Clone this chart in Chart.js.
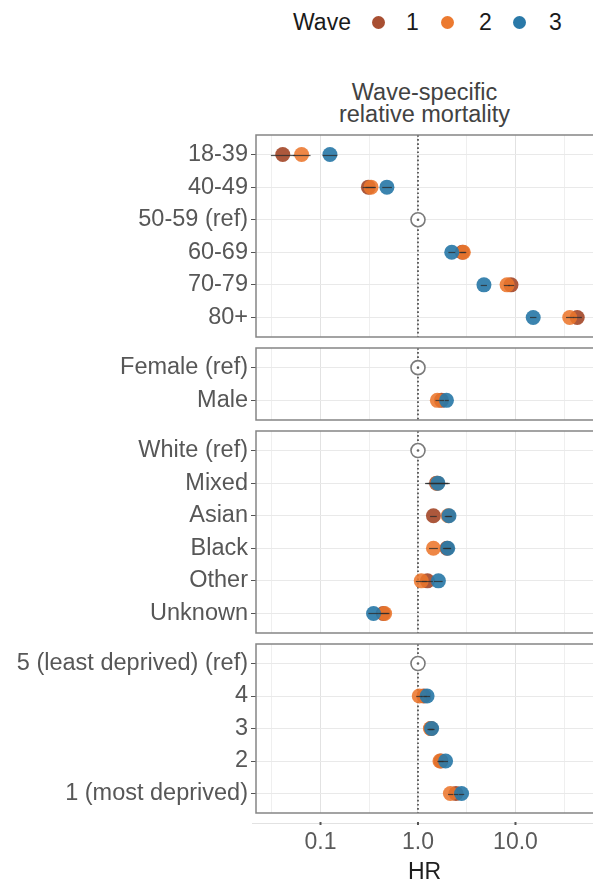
<!DOCTYPE html>
<html>
<head>
<meta charset="utf-8">
<title>Wave-specific relative mortality</title>
<script src="https://cdn.jsdelivr.net/npm/chart.js@4.4.1/dist/chart.umd.min.js"></script>
<style>
  html, body { margin: 0; padding: 0; background: #fff; width: 593px; height: 884px; overflow: hidden;
    font-family: "Liberation Sans", Arial, Helvetica, sans-serif; }
  .abs { position: absolute; white-space: nowrap; }
  .legend-text { font-size: 23px; line-height: 26px; top: 9px; color: #1a1a1a; }
  .legend-dot { width: 13px; height: 13px; border-radius: 50%; top: 15.5px; }
  .strip { left: 256px; width: 337px; top: 81px; text-align: center; font-size: 23.5px; line-height: 22px; color: #424242; }
  canvas { position: absolute; left: 0; }
</style>
</head>
<body>

<!-- legend -->
<div class="abs legend-text" style="left:293px">Wave</div>
<div class="abs legend-dot" style="left:372px;background:#a84f32"></div>
<div class="abs legend-text" style="left:406px">1</div>
<div class="abs legend-dot" style="left:441px;background:#ec7a30"></div>
<div class="abs legend-text" style="left:479px">2</div>
<div class="abs legend-dot" style="left:513px;background:#2a79a8"></div>
<div class="abs legend-text" style="left:549px">3</div>

<!-- panel heading -->
<div class="abs strip">Wave-specific<br>relative mortality</div>

<canvas id="age"></canvas>
<canvas id="sex"></canvas>
<canvas id="ethnicity"></canvas>
<canvas id="deprivation"></canvas>

<script>
// ---- row labels ----
const ageLabels = ['18-39', '40-49', '50-59 (ref)', '60-69', '70-79', '80+'];
const sexLabels = ['Female (ref)', 'Male'];
const ethnicityLabels = ['White (ref)', 'Mixed', 'Asian', 'Black', 'Other', 'Unknown'];
const deprivationLabels = ['5 (least deprived) (ref)', '4', '3', '2', '1 (most deprived)'];

// ---- reference category row in each panel (HR fixed at 1) ----
const ageRef = 2;
const sexRef = 0;
const ethnicityRef = 0;
const deprivationRef = 0;

// ---- hazard ratios by wave ----
const ageWave1 = [0.041, 0.31, null, 2.85, 9.0, 43];
const ageWave2 = [0.064, 0.33, null, 2.92, 8.2, 36];
const ageWave3 = [0.125, 0.48, null, 2.22, 4.75, 15.2];

const sexWave1 = [null, 1.74];
const sexWave2 = [null, 1.58];
const sexWave3 = [null, 1.96];

const ethnicityWave1 = [null, 1.55, 1.44, 1.98, 1.25, 0.44];
const ethnicityWave2 = [null, 1.58, 2.04, 1.44, 1.08, 0.455];
const ethnicityWave3 = [null, 1.60, 2.08, 2.02, 1.62, 0.35];

const deprivationWave1 = [null, 1.15, 1.36, 1.72, 2.45];
const deprivationWave2 = [null, 1.03, 1.34, 1.68, 2.15];
const deprivationWave3 = [null, 1.24, 1.38, 1.92, 2.80];

// ---- 95% confidence intervals by wave ----
const ageWave1CI = [[0.031, 0.055], [0.27, 0.36], null, [2.65, 3.07], [8.4, 9.7], [39, 48]];
const ageWave2CI = [[0.052, 0.079], [0.29, 0.37], null, [2.72, 3.13], [7.6, 8.8], [33, 39.5]];
const ageWave3CI = [[0.105, 0.149], [0.43, 0.54], null, [2.05, 2.41], [4.4, 5.1], [14.1, 16.4]];

const sexWave1CI = [null, [1.66, 1.85]];
const sexWave2CI = [null, [1.51, 1.65]];
const sexWave3CI = [null, [1.88, 2.07]];

const ethnicityWave1CI = [null, [1.18, 2.04], [1.33, 1.56], [1.80, 2.17], [1.10, 1.42], [0.39, 0.50]];
const ethnicityWave2CI = [null, [1.22, 2.05], [1.88, 2.20], [1.30, 1.60], [0.95, 1.23], [0.41, 0.51]];
const ethnicityWave3CI = [null, [1.26, 2.12], [1.93, 2.24], [1.86, 2.19], [1.46, 1.79], [0.31, 0.39]];

const deprivationWave1CI = [null, [1.08, 1.23], [1.28, 1.45], [1.62, 1.83], [2.32, 2.60]];
const deprivationWave2CI = [null, [0.96, 1.10], [1.25, 1.43], [1.58, 1.79], [2.03, 2.29]];
const deprivationWave3CI = [null, [1.16, 1.33], [1.29, 1.48], [1.78, 2.03], [2.64, 2.98]];

// ---- x axis (log HR) breaks ----
const xBreaks = [0.1, 1, 10];
const xBreakLabels = ['0.1', '1.0', '10.0'];
const xMinorBreaks = [0.0316, 0.316, 3.16, 31.6];

// ---- layout & styling ----
const FONT = '"Liberation Sans", Arial, Helvetica, sans-serif';
const WAVE_FILL = ['rgba(168,79,50,0.95)', 'rgba(236,118,44,0.88)', 'rgba(42,121,168,0.92)'];
const PAGE_W = 593, PAGE_H = 884;
const PLOT_LEFT = 256;
const ROW = 32.5;
const GAP = 11;
const PAD = 20;
const X_MIN = 0.0218, X_MAX = 62.4;

// Panel frame, confidence intervals and the detached bottom axis line
const forestExtras = {
  id: 'forestExtras',
  afterDatasetsDraw(chart, args, opts) {
    const { ctx, chartArea: a, scales: { x, y } } = chart;
    ctx.save();
    ctx.beginPath();
    ctx.rect(a.left, a.top, a.right - a.left, a.bottom - a.top);
    ctx.clip();
    ctx.strokeStyle = 'rgba(45,45,45,0.8)';
    ctx.lineWidth = 1.2;
    (opts.intervals || []).forEach(ci => ci.forEach((r, i) => {
      if (!r) return;
      const py = Math.round(y.getPixelForValue(i)) + 0.5;
      ctx.beginPath();
      ctx.moveTo(x.getPixelForValue(r[0]), py);
      ctx.lineTo(x.getPixelForValue(r[1]), py);
      ctx.stroke();
    }));
    ctx.restore();

    ctx.save();
    ctx.strokeStyle = '#858585';
    ctx.lineWidth = 1.5;
    ctx.beginPath();
    ctx.moveTo(a.right + 4, a.top);
    ctx.lineTo(a.left, a.top);
    ctx.lineTo(a.left, a.bottom);
    ctx.lineTo(a.right + 4, a.bottom);
    ctx.stroke();
    ctx.restore();

    if (opts.bottomAxis) {
      const ly = a.bottom + 10.5;
      ctx.save();
      ctx.strokeStyle = '#e2e2e2';
      ctx.lineWidth = 1;
      ctx.beginPath();
      ctx.moveTo(a.left - 4, ly);
      ctx.lineTo(a.right, ly);
      ctx.stroke();
      ctx.fillStyle = '#555';
      xBreaks.forEach(v => {
        const px = x.getPixelForValue(v);
        ctx.fillRect(px - 1, ly - 1.5, 2, 3);
      });
      ctx.restore();
    }
  }
};

function toPoints(values) {
  const pts = [];
  values.forEach((v, i) => { if (v != null) pts.push({ x: v, y: i }); });
  return pts;
}

function buildPanel(id, panelTop, labels, refRow, waves, intervals, isBottom) {
  const n = labels.length;
  const h = Math.round((n + 0.2) * ROW);
  const panelBottom = panelTop + h;
  const canvas = document.getElementById(id);
  const cTop = panelTop - PAD;
  const cHeight = isBottom ? PAGE_H - cTop : h + 2 * PAD;
  canvas.width = PAGE_W;
  canvas.height = cHeight;
  canvas.style.top = cTop + 'px';

  const datasets = [
    {
      type: 'line',
      data: [{ x: 1, y: -0.6 }, { x: 1, y: n - 0.4 }],
      borderColor: '#4a4a4a',
      borderWidth: 1.7,
      borderDash: [1.7, 2.4],
      pointRadius: 0,
      order: 10
    },
    {
      data: [{ x: 1, y: refRow }],
      pointRadius: 7,
      pointBorderWidth: 1.6,
      pointBorderColor: '#7a7a7a',
      pointBackgroundColor: '#ffffff',
      order: 6
    },
    {
      data: [{ x: 1, y: refRow }],
      pointRadius: 1.3,
      pointBorderWidth: 0,
      pointBackgroundColor: '#666',
      order: 5
    }
  ];
  waves.forEach((vals, k) => {
    datasets.push({
      data: toPoints(vals),
      pointRadius: 7.5,
      pointBorderWidth: 0,
      pointBackgroundColor: WAVE_FILL[k],
      order: 3 - k
    });
  });

  new Chart(canvas, {
    type: 'scatter',
    data: { datasets },
    plugins: [forestExtras],
    options: {
      responsive: false,
      animation: false,
      events: [],
      layout: { autoPadding: false, padding: { top: PAD, bottom: isBottom ? 0 : PAD, left: 0, right: 0 } },
      plugins: {
        legend: { display: false },
        tooltip: { enabled: false },
        forestExtras: { intervals, bottomAxis: isBottom }
      },
      scales: {
        x: {
          type: 'logarithmic',
          min: X_MIN,
          max: X_MAX,
          afterBuildTicks: s => {
            s.ticks = xMinorBreaks.concat(xBreaks).sort((a, b) => a - b).map(v => ({ value: v }));
          },
          afterFit: s => { s.height = isBottom ? PAGE_H - panelBottom : 0; },
          border: { display: false },
          grid: {
            drawTicks: false,
            color: c => (c.tick && xBreaks.includes(c.tick.value)) ? '#e2e2e2' : '#efefef',
            lineWidth: 1
          },
          ticks: {
            display: isBottom,
            autoSkip: false,
            maxRotation: 0,
            padding: 16,
            color: '#5a5a5a',
            font: { family: FONT, size: 23 },
            callback: v => {
              const i = xBreaks.indexOf(v);
              return i >= 0 ? xBreakLabels[i] : '';
            }
          },
          title: {
            display: isBottom,
            text: 'HR',
            color: '#1e1e1e',
            padding: { top: 0, bottom: 0 },
            font: { family: FONT, size: 23, lineHeight: 1 }
          }
        },
        y: {
          type: 'linear',
          reverse: true,
          min: -0.6,
          max: n - 0.4,
          afterBuildTicks: s => { s.ticks = labels.map((_, i) => ({ value: i })); },
          afterFit: s => { s.width = PLOT_LEFT; },
          border: { display: false },
          grid: {
            color: '#e9e9e9',
            lineWidth: 1,
            drawTicks: true,
            tickLength: 5,
            tickColor: '#555'
          },
          ticks: {
            autoSkip: false,
            padding: 3,
            color: '#575757',
            font: { family: FONT, size: 23.5 },
            callback: v => labels[v]
          }
        }
      }
    }
  });
  return panelBottom;
}

let nextTop = 135;
nextTop = buildPanel('age', nextTop, ageLabels, ageRef,
  [ageWave1, ageWave2, ageWave3], [ageWave1CI, ageWave2CI, ageWave3CI], false) + GAP;
nextTop = buildPanel('sex', nextTop, sexLabels, sexRef,
  [sexWave1, sexWave2, sexWave3], [sexWave1CI, sexWave2CI, sexWave3CI], false) + GAP;
nextTop = buildPanel('ethnicity', nextTop, ethnicityLabels, ethnicityRef,
  [ethnicityWave1, ethnicityWave2, ethnicityWave3], [ethnicityWave1CI, ethnicityWave2CI, ethnicityWave3CI], false) + GAP;
buildPanel('deprivation', nextTop, deprivationLabels, deprivationRef,
  [deprivationWave1, deprivationWave2, deprivationWave3], [deprivationWave1CI, deprivationWave2CI, deprivationWave3CI], true);
</script>
</body>
</html>
